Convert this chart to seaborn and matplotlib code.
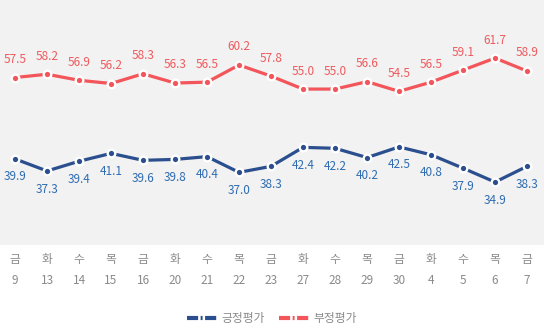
import numpy as np
import pandas as pd
import matplotlib.pyplot as plt
import seaborn as sns
from matplotlib.lines import Line2D

# weekly approval survey values
days = ["금", "화", "수", "목", "금", "화", "수", "목", "금", "화", "수", "목", "금", "화", "수", "목", "금"]
dates = ["9", "13", "14", "15", "16", "20", "21", "22", "23", "27", "28", "29", "30", "4", "5", "6", "7"]
positive = [39.9, 37.3, 39.4, 41.1, 39.6, 39.8, 40.4, 37.0, 38.3, 42.4, 42.2, 40.2, 42.5, 40.8, 37.9, 34.9, 38.3]
negative = [57.5, 58.2, 56.9, 56.2, 58.3, 56.3, 56.5, 60.2, 57.8, 55.0, 55.0, 56.6, 54.5, 56.5, 59.1, 61.7, 58.9]

blue = "#2b4f8e"
blue_txt = "#2f6cb0"
red = "#f2555a"
red_txt = "#ee5a5e"

sns.set_style("white")
plt.rcParams["font.family"] = ["Noto Sans CJK KR", "DejaVu Sans"]

x = np.arange(len(dates))
df = pd.DataFrame({"x": x, "긍정평가": positive, "부정평가": negative})

fig = plt.figure(figsize=(5.44, 3.30), dpi=100)
ax = fig.add_axes([0, 1 - 245 / 330, 1, 245 / 330])
ax.set_facecolor("#f2f2f2")

for col, c, tc, off in [("부정평가", red, red_txt, 13), ("긍정평가", blue, blue_txt, -13)]:
    sns.lineplot(data=df, x="x", y=col, ax=ax, color=c, linewidth=2.3,
                 marker="o", markersize=5.5, markerfacecolor=c,
                 markeredgecolor="white", markeredgewidth=1.7)
    for xi, v in zip(x, df[col]):
        ax.annotate(f"{v:.1f}", (xi, v), xytext=(0, off), textcoords="offset points",
                    ha="center", va="center", fontsize=8.5, color=tc)

ax.set_xlim(-0.47, 16.53)
ax.set_ylim(21.3, 74.25)
ax.set_xticks(x)
ax.set_xticklabels([f"{d}\n{n}" for d, n in zip(days, dates)], fontsize=8.5,
                   color="#8a8a8a", linespacing=1.75)
ax.tick_params(axis="x", length=0, pad=6)
ax.set_yticks([])
ax.set_xlabel("")
ax.set_ylabel("")
for s in ax.spines.values():
    s.set_visible(False)

# legend with dash-dot-dash handles
dash = (0, (2.67, 0.6, 0.47, 0.6, 2.67, 10))
handles = [Line2D([], [], color=blue, lw=3, linestyle=dash, solid_capstyle="butt"),
           Line2D([], [], color=red, lw=3, linestyle=dash)]
fig.legend(handles, ["긍정평가", "부정평가"], loc="center", bbox_to_anchor=(0.5, 0.035),
           ncol=2, frameon=False, fontsize=8.5, labelcolor="#8a8a8a",
           handlelength=2.5, columnspacing=1.2, handletextpad=0.4)

fig.savefig("out.png", dpi=100)
